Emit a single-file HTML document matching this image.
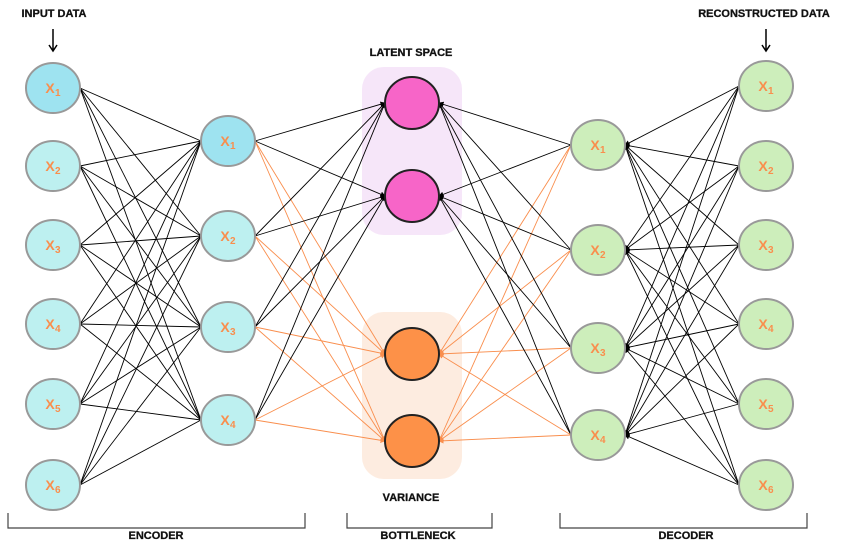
<!DOCTYPE html>
<html><head><meta charset="utf-8"><style>
html,body{margin:0;padding:0;background:#fff;width:864px;height:543px;overflow:hidden}
svg{display:block;font-family:"Liberation Sans",sans-serif}
</style></head><body>
<svg id="s" width="864" height="543" viewBox="0 0 864 543" xmlns="http://www.w3.org/2000/svg">
<defs>
<marker id="ab" markerWidth="6" markerHeight="6" refX="5" refY="3" orient="auto"><path d="M0,0L6,3L0,6z" fill="#000"/></marker>
<marker id="ao" markerWidth="6" markerHeight="6" refX="5" refY="3" orient="auto"><path d="M0,0L6,3L0,6z" fill="#f98e4d"/></marker>
</defs>
<rect x="362" y="67" width="100" height="168" rx="22" fill="#f6e6f9"/>
<rect x="362" y="312" width="100" height="167" rx="22" fill="#fdece0"/>
<g id="lines"></g>
<g id="nodes"></g>
<g font-weight="bold" font-size="11" fill="#111" stroke="#111" stroke-width="0.3">
<text x="54" y="17" text-anchor="middle">INPUT DATA</text>
<text x="764" y="17" text-anchor="middle">RECONSTRUCTED DATA</text>
<text x="411" y="56" text-anchor="middle">LATENT SPACE</text>
<text x="411" y="501" text-anchor="middle">VARIANCE</text>
<text x="156" y="539" text-anchor="middle">ENCODER</text>
<text x="418" y="539" text-anchor="middle">BOTTLENECK</text>
<text x="686" y="539" text-anchor="middle">DECODER</text>
</g>
<g stroke="#000" stroke-width="1.5" fill="none">
<path d="M53,29V50M49,45L53,51L57,45"/>
<path d="M766,29V50M762,45L766,51L770,45"/>
</g>
<g stroke="#444" stroke-width="1.2" fill="none">
<path d="M8,513V528H305V513"/>
<path d="M347,513V528H492V513"/>
<path d="M560,513V528H807V513"/>
</g>
</svg>
<script>
var NS="http://www.w3.org/2000/svg";
var L=document.getElementById("lines"),N=document.getElementById("nodes");
function ln(x1,y1,x2,y2,c,m){var e=document.createElementNS(NS,"line");e.setAttribute("x1",x1);e.setAttribute("y1",y1);e.setAttribute("x2",x2);e.setAttribute("y2",y2);e.setAttribute("stroke",c);e.setAttribute("stroke-width","0.9");if(m)e.setAttribute("marker-end",m);L.appendChild(e);}
var inp=[88,166,245,324,404,485],h1=[141,236,327,420],lat=[103,196],vr=[354,441],h2=[145,250,348,435],out=[86,166,245,324,404,485];
inp.forEach(function(a){h1.forEach(function(b){ln(80,a,201,b,"#000")})});
h1.forEach(function(a){lat.forEach(function(b){ln(255,a,385,b,"#000","url(#ab)")});vr.forEach(function(b){ln(255,a,385,b,"#f98e4d","url(#ao)")})});
h2.forEach(function(a){lat.forEach(function(b){ln(571,a,439,b,"#000","url(#ab)")});vr.forEach(function(b){ln(571,a,439,b,"#f98e4d","url(#ao)")})});
out.forEach(function(a){h2.forEach(function(b){ln(739,a,625,b,"#000","url(#ab)")})});
function nd(x,y,rx,ry,f,st,sw,lab,sub){var e=document.createElementNS(NS,"ellipse");e.setAttribute("cx",x);e.setAttribute("cy",y);e.setAttribute("rx",rx);e.setAttribute("ry",ry);e.setAttribute("fill",f);e.setAttribute("stroke",st);e.setAttribute("stroke-width",sw);N.appendChild(e);
if(lab){var t=document.createElementNS(NS,"text");t.setAttribute("x",x-3);t.setAttribute("y",y+5);t.setAttribute("fill","#f98e4d");t.setAttribute("font-size","14");t.setAttribute("font-weight","bold");t.setAttribute("text-anchor","middle");t.textContent="X";N.appendChild(t);
var s=document.createElementNS(NS,"text");s.setAttribute("x",x+2);s.setAttribute("y",y+8);s.setAttribute("fill","#f98e4d");s.setAttribute("font-size","10");s.setAttribute("font-weight","bold");s.textContent=sub;N.appendChild(s);}}
inp.forEach(function(y,i){nd(53,y,27,25,i==0?"#9ee3f0":"#bdf0f0","#999",2,1,i+1)});
h1.forEach(function(y,i){nd(228,y,27,25,i==0?"#9ee3f0":"#bdf0f0","#999",2,1,i+1)});
lat.forEach(function(y){nd(412,y,27,26,"#f765c8","#222",2)});
vr.forEach(function(y){nd(412,y,27,26,"#fd9148","#222",2)});
h2.forEach(function(y,i){nd(598,y,27,25,"#cdeebb","#999",2,1,i+1)});
out.forEach(function(y,i){nd(766,y,27,25,"#cdeebb","#999",2,1,i+1)});
</script>
</body></html>
